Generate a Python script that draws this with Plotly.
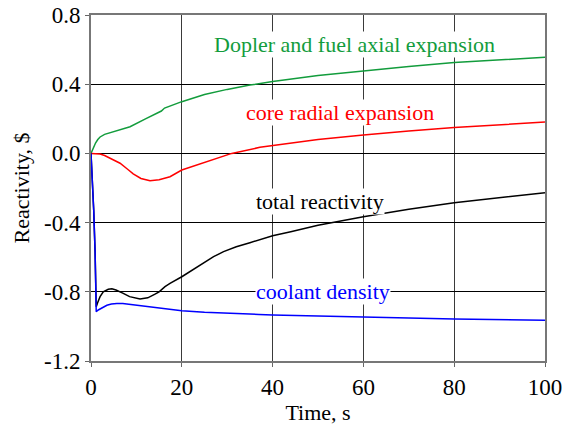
import plotly.graph_objects as go

# Doppler and fuel axial expansion
t_dop = [0, 0.5, 1, 1.5, 2, 3, 4, 6, 8.6, 12, 15.5, 16.2, 20, 25, 30, 35, 40, 50, 60, 70, 80, 90, 100]
v_dop = [0, 0.035, 0.06, 0.08, 0.095, 0.11, 0.118, 0.132, 0.154, 0.2, 0.245, 0.262, 0.299, 0.34, 0.37, 0.395, 0.415, 0.45, 0.478, 0.503, 0.525, 0.542, 0.556]

# core radial expansion
t_rad = [0, 1, 2, 3, 4.5, 6.4, 8, 9.3, 11, 13, 15, 17.4, 20, 25, 31, 37.2, 40, 50, 60, 70, 80, 90, 100]
v_rad = [0, 0.0, -0.003, -0.012, -0.03, -0.057, -0.09, -0.118, -0.145, -0.158, -0.152, -0.135, -0.096, -0.052, 0.0, 0.035, 0.045, 0.08, 0.106, 0.13, 0.149, 0.166, 0.181]

# total reactivity
t_tot = [0, 0.3, 0.6, 0.9, 1.15, 1.5, 2, 2.7, 3.8, 4.6, 5.5, 7, 8.5, 10.8, 12.5, 14, 15, 16.3, 17.4, 20, 22.5, 24.8, 27, 29.2, 32, 35, 40, 44, 50, 60, 70, 80, 90, 100]
v_tot = [0, -0.13, -0.33, -0.57, -0.886, -0.86, -0.828, -0.80, -0.785, -0.783, -0.79, -0.808, -0.828, -0.842, -0.835, -0.815, -0.80, -0.77, -0.751, -0.713, -0.672, -0.63, -0.597, -0.568, -0.54, -0.516, -0.476, -0.453, -0.415, -0.366, -0.323, -0.285, -0.255, -0.227]

# coolant density
t_cool = [0, 0.3, 0.6, 0.9, 1.15, 1.6, 2.5, 3.5, 4.5, 5.7, 7, 9, 12, 15, 20, 25, 30, 37, 40, 50, 60, 70, 80, 90, 100]
v_cool = [0, -0.135, -0.33, -0.57, -0.915, -0.905, -0.89, -0.878, -0.871, -0.867, -0.868, -0.874, -0.885, -0.895, -0.909, -0.918, -0.925, -0.931, -0.934, -0.941, -0.947, -0.952, -0.957, -0.961, -0.965]

x_ticks = [0, 20, 40, 60, 80, 100]
y_ticks = [-1.2, -0.8, -0.4, 0.0, 0.4, 0.8]
y_ticktext = ["-1.2", "-0.8", "-0.4", "0.0", "0.4", "0.8"]

GREEN = "#129c3c"
RED = "#ff0000"
BLACK = "#000000"
BLUE = "#0000ff"

labels = [
    ("Dopler and fuel axial expansion", 58.1, 0.627, GREEN),
    ("core radial expansion", 54.8, 0.239, RED),
    ("total reactivity", 50.4, -0.279, BLACK),
    ("coolant density", 51.0, -0.80, BLUE),
]

FONT = "Liberation Serif, Times New Roman, serif"

fig = go.Figure()
for t, v, c in [(t_dop, v_dop, GREEN), (t_rad, v_rad, RED), (t_tot, v_tot, BLACK), (t_cool, v_cool, BLUE)]:
    fig.add_trace(go.Scatter(x=t, y=v, mode="lines", line=dict(color=c, width=1.5), showlegend=False))

for text, x, y, c in labels:
    fig.add_annotation(x=x, y=y, xref="x", yref="y", text=text, showarrow=False,
                       font=dict(family=FONT, size=22, color=c), bgcolor="white", borderpad=0)

fig.update_layout(
    width=571, height=425,
    margin=dict(l=91, r=26, t=15, b=64, autoexpand=False),
    paper_bgcolor="white", plot_bgcolor="white",
    font=dict(family=FONT, size=22, color="black"),
)
fig.update_xaxes(
    range=[0, 100], tickvals=x_ticks, ticks="outside", ticklen=4, tickcolor="#666",
    showgrid=True, gridcolor="#3a3a3a", gridwidth=1, automargin=False,
    showline=True, linecolor="#777", linewidth=2, mirror=True, zeroline=False,
    title=dict(text="Time, s", font=dict(family=FONT, size=22, color="black"), standoff=7),
    tickfont=dict(family=FONT, size=23, color="black"), ticklabeloverflow="allow",
)
fig.update_yaxes(
    range=[-1.2, 0.8], tickvals=y_ticks, ticktext=y_ticktext, ticks="outside", ticklen=4, tickcolor="#666",
    showgrid=True, gridcolor="#000000", gridwidth=1, automargin=False,
    showline=True, linecolor="#777", linewidth=2, mirror=True, zeroline=False,
    title=dict(text="Reactivity, $", font=dict(family=FONT, size=22, color="black"), standoff=8),
    tickfont=dict(family=FONT, size=23, color="black"), ticklabeloverflow="allow",
)

# remove the default 8px page margin so the 571x425 figure fills the window exactly
fig.write_html("out.html", config={"displayModeBar": False},
               post_script="document.body.style.margin='0';")
